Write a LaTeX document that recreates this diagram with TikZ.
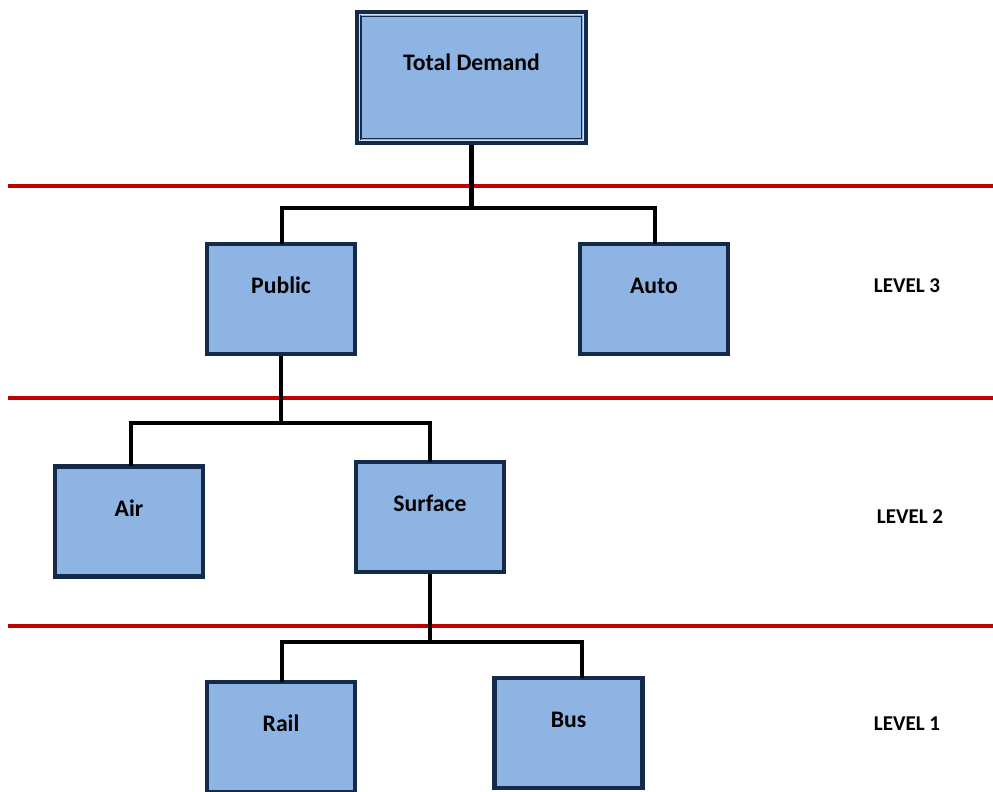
\documentclass[tikz,border=0pt]{standalone}
\usepackage{fontspec}
\setmainfont{Carlito}
\usepackage{tikz}
\usetikzlibrary{calc,positioning}
\definecolor{boxfill}{HTML}{8EB4E3}
\definecolor{boxline}{HTML}{132A4A}
\definecolor{levelred}{HTML}{C00000}

\begin{document}
\begin{tikzpicture}[x=0.02cm,y=-0.02cm]
      %%%%%%%%%%%%%%%%%%%%%%%%%%%%%%%%%%%%%%%%%%%%%%%%%%
      %% demand hierarchy
      %%%%%%%%%%%%%%%%%%%%%%%%%%%%%%%%%%%%%%%%%%%%%%%%%%
      \tikzstyle{bnode} = [rectangle, draw=boxline, fill=boxfill, line width=2.6pt, minimum width=2.96cm, minimum height=2.2cm, inner sep=0pt, text height=10pt, text depth=16pt, font=\fontsize{13.5}{16}\selectfont\bfseries]
      \tikzstyle{lnode} = [inner sep=0pt, font=\fontsize{12}{14}\selectfont\bfseries]
      \tikzstyle{conn} = [line width=2.8pt, black]
      \tikzstyle{sep} = [line width=2.3pt, levelred]
      \useasboundingbox (0,0) rectangle (993,791);
      % level separators
      \draw[sep] (8,186) -- (993,186);
      \draw[sep] (8,398) -- (993,398);
      \draw[sep] (8,626) -- (993,626);
      % boxes
      \node[bnode, line width=3.4pt, minimum width=4.56cm, minimum height=2.6cm, text depth=18pt] (td) at (471.5,77.5) {Total Demand};
      \draw[white!60!boxfill, line width=0.9pt] ([shift={(5,-5)}]td.south west) rectangle ([shift={(-5,5)}]td.north east);
      \draw[boxline, line width=0.7pt] ([shift={(6.6,-6.6)}]td.south west) rectangle ([shift={(-6.6,6.6)}]td.north east);
      \node[bnode] (public) at (281,299) {Public};
      \node[bnode] (auto) at (654,299) {Auto};
      \node[bnode] (air) at (129,521.5) {Air};
      \node[bnode] (surface) at (430,517) {Surface};
      \node[bnode] (rail) at (281,737) {Rail};
      \node[bnode] (bus) at (568.5,733) {Bus};
      % levels
      \node[lnode] (lev3) at (907,286) {LEVEL 3};
      \node[lnode] (lev2) at (910,517) {LEVEL 2};
      \node[lnode] (lev1) at (907,724) {LEVEL 1};
      % tree connectors
      \coordinate (j1) at (471.5,208);
      \coordinate (j2) at (281,423);
      \coordinate (j3) at (430,642);
      \draw[conn] (td.south) -- (j1);
      \draw[conn] (j1) -| ([shift={(1,2)}]public.north);
      \draw[conn] (j1) -| ([shift={(1,2)}]auto.north);
      \draw[conn] (public.south) -- (j2);
      \draw[conn] (j2) -| ([shift={(2,2)}]air.north);
      \draw[conn] (j2) -| ([shift={(0,2)}]surface.north);
      \draw[conn] (surface.south) -- (j3);
      \draw[conn] (j3) -| ([shift={(1,2)}]rail.north);
      \draw[conn] (j3) -| ([shift={(13.5,2)}]bus.north);
\end{tikzpicture}
\end{document}
